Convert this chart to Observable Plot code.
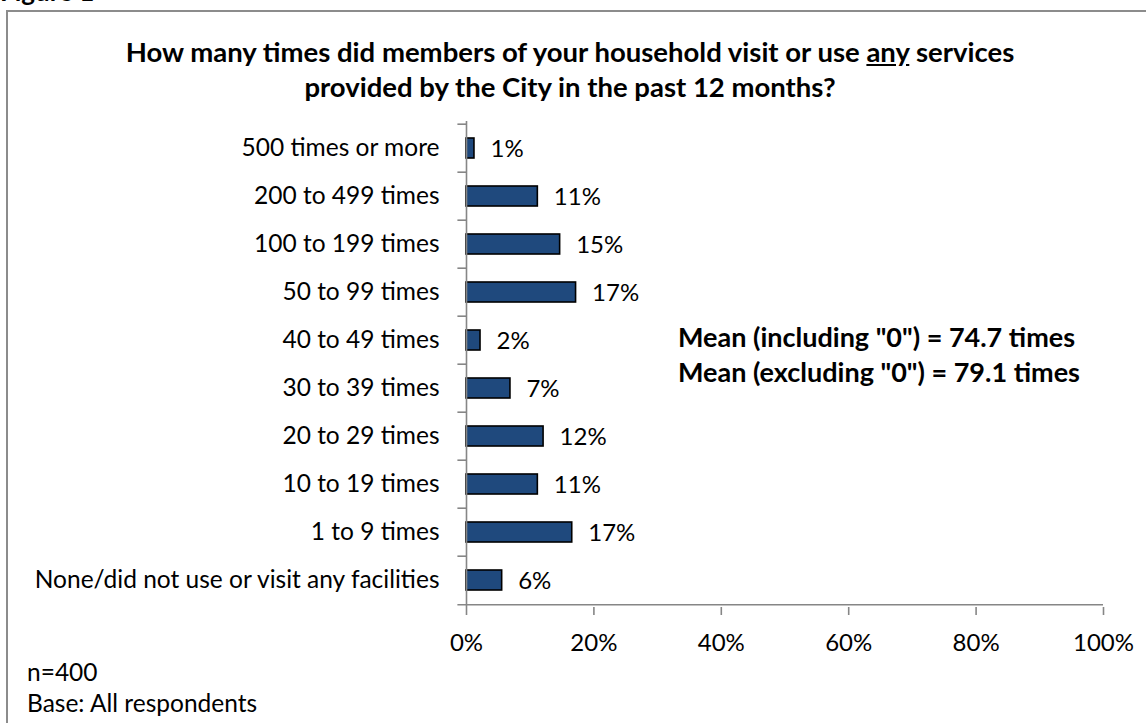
<!DOCTYPE html>
<html>
<head>
<meta charset="utf-8">
<script src="https://cdn.jsdelivr.net/npm/d3@7"></script>
<script src="https://cdn.jsdelivr.net/npm/@observablehq/plot@0.6"></script>
<style>
  html, body { margin: 0; padding: 0; background: #fff; }
  body { width: 1146px; height: 723px; position: relative; overflow: hidden; font-family: Lato, "Open Sans", sans-serif; color: #000; }
  .abs { position: absolute; white-space: nowrap; }
  #figlabel { left: 0px; top: -22px; font-size: 26px; font-weight: bold; line-height: 26px; }
  #frame { left: 6px; top: 10px; width: 1200px; height: 800px; border-left: 2px solid #8c8c8c; border-top: 2px solid #8c8c8c; box-sizing: border-box; }
  #title { left: 0; width: 1140px; top: 34px; text-align: center; font-size: 27.5px; font-weight: bold; line-height: 35px; }
  #mean { left: 678px; top: 319px; font-size: 27px; font-weight: bold; line-height: 35px; }
  #notes { left: 27px; top: 656px; font-size: 24.5px; line-height: 31px; }
  #chart { left: 0; top: 100px; }
</style>
</head>
<body>
<div id="figlabel" class="abs">Figure 1</div>
<div id="frame" class="abs"></div>
<div id="title" class="abs">How many times did members of your household visit or use <u>any</u> services<br>provided by the City in the past 12 months?</div>
<div id="chart" class="abs"></div>
<div id="mean" class="abs">Mean (including "0") = 74.7 times<br>Mean (excluding "0") = 79.1 times</div>
<div id="notes" class="abs">n=400<br>Base: All respondents</div>
<script>
const categories = [
  "500 times or more",
  "200 to 499 times",
  "100 to 199 times",
  "50 to 99 times",
  "40 to 49 times",
  "30 to 39 times",
  "20 to 29 times",
  "10 to 19 times",
  "1 to 9 times",
  "None/did not use or visit any facilities"
];
const values = [1.25, 11.2, 14.7, 17.2, 2.2, 6.9, 12.1, 11.2, 16.6, 5.6];
const xTicks = [0, 20, 40, 60, 80, 100];

const data = categories.map((c, i) => ({category: c, value: values[i]}));

const W = 1146, H = 580;
const mTop = 21, mBottom = 73, mLeft = 466, mRight = 43;
const step = (H - mTop - mBottom) / categories.length;
const axisGray = "#868686";
const font = "Lato, 'Open Sans', sans-serif";

const chart = Plot.plot({
  width: W,
  height: H,
  marginTop: mTop,
  marginBottom: mBottom,
  marginLeft: mLeft,
  marginRight: mRight,
  style: {fontFamily: font, fontSize: "24px", color: "#000", background: "transparent"},
  x: {domain: [0, 100]},
  y: {domain: categories, paddingInner: 0.58, paddingOuter: 0.29},
  marks: [
    Plot.barX(data, {y: "category", x: "value", fill: "#1F497D", stroke: "#000", strokeWidth: 1.6}),
    Plot.text(data, {y: "category", x: "value", text: d => Math.round(d.value) + "%", textAnchor: "start", dx: 16, dy: 1, fontSize: 24, fill: "#000"}),
    // category boundary ticks on the y axis
    Plot.ruleY(data, {y: "category", x1: -1.35, x2: 0, dy: -step / 2, stroke: axisGray, strokeWidth: 1.6}),
    // bottom boundary / x axis line
    Plot.ruleY([categories[categories.length - 1]], {x1: -1.35, x2: 100, dy: step / 2, stroke: axisGray, strokeWidth: 1.6}),
    // y axis line
    Plot.ruleX([0], {stroke: axisGray, strokeWidth: 1.6}),
    Plot.axisY({tickSize: 0, tickPadding: 27, fontSize: 24.5, fill: "#000", label: null}),
    Plot.axisX({ticks: xTicks, tickFormat: d => d + "%", tickSize: 8, tickPadding: 18, stroke: axisGray, strokeWidth: 1.6, fontSize: 24, fill: "#000", label: null})
  ]
});
document.getElementById("chart").appendChild(chart);
</script>
</body>
</html>
